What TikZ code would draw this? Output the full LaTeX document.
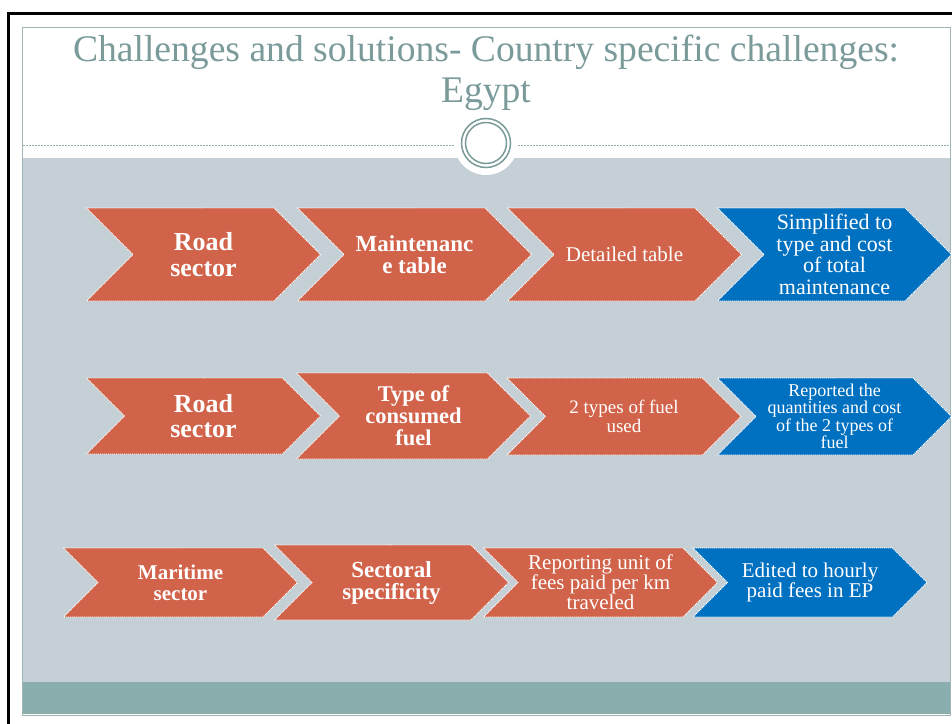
\documentclass[tikz,border=0pt]{standalone}
\usepackage{fontspec}
\setmainfont{Liberation Serif}
\usepackage{xcolor}
\usepackage{tikz}
\usetikzlibrary{shapes.symbols}

\definecolor{chevred}{RGB}{209,99,74}
\definecolor{chevblue}{RGB}{0,112,192}
\definecolor{panel}{RGB}{197,208,214}
\definecolor{footbar}{RGB}{138,173,173}
\definecolor{titlegray}{RGB}{123,155,155}
\definecolor{slideedge}{RGB}{160,182,182}

\begin{document}
\begin{tikzpicture}[x=1pt, y=-1pt,
  chev/.style={signal, signal from=west, signal to=east, signal pointer angle=90,
    draw=white, dash pattern=on 1.2pt off 0.8pt, line width=0.8pt,
    text=white, align=center, inner sep=0pt, outer sep=0pt, minimum width=234pt},
  redchev/.style={chev, fill=chevred},
  bluechev/.style={chev, fill=chevblue},
  title/.style={text=titlegray, align=center, inner sep=0pt, font=\fontsize{37.6}{41}\selectfont}
]
\useasboundingbox (0,0) rectangle (952,723);
\fill[white] (0,0) rectangle (952,723);
\draw[line width=3pt] (8.5,13) rectangle (990,760);

% slide and bands
\draw[draw=slideedge, fill=white, line width=1pt] (22.5,27.5) rectangle (950,715);
\fill[panel] (23,158) rectangle (949.5,682);
\fill[footbar] (23,682) rectangle (949.5,714);
\draw[titlegray!80, line width=0.8pt, dash pattern=on 2pt off 1pt] (23,145) -- (949.5,145);
\fill[white] (486,143) circle (32pt);
\draw[titlegray, line width=1.5pt] (486,143) circle (24.5pt) (486,143) circle (20.5pt);

\node[title] (title) at (486,72.7) {Challenges and solutions- Country specific challenges:\\Egypt};

% row 1
\node[redchev, minimum height=93pt, font=\bfseries\fontsize{26}{25.5}\selectfont] (road1) at (203.5,254.5) {Road\\sector};
\node[redchev, minimum height=93pt, font=\bfseries\fontsize{23}{22.5}\selectfont] (maint) at (414.5,254.5) {Maintenanc\\e table};
\node[redchev, minimum height=93pt, font=\fontsize{21}{21}\selectfont] (detail) at (624.5,254.5) {Detailed table};
\node[bluechev, minimum height=93pt, font=\fontsize{22}{21.5}\selectfont] (simpl) at (834.5,254.5) {Simplified to\\type and cost\\of total\\maintenance};

% row 2
\node[redchev, minimum height=76pt, font=\bfseries\fontsize{26}{25.5}\selectfont] (road2) at (203.5,416) {Road\\sector};
\node[redchev, minimum height=86pt, font=\bfseries\fontsize{22.5}{22}\selectfont] (fueltype) at (413.5,416) {Type of\\consumed\\fuel};
\node[redchev, minimum height=77pt, font=\fontsize{19}{19}\selectfont] (twofuel) at (624,416.5) {2 types of fuel\\used};
\node[bluechev, minimum height=77pt, font=\fontsize{18}{17.5}\selectfont] (reported) at (834.5,416.5) {Reported the\\quantities and cost\\of the 2 types of\\fuel};

% row 3
\node[redchev, minimum height=69pt, font=\bfseries\fontsize{21}{21}\selectfont] (marit) at (180.5,582.5) {Maritime\\sector};
\node[redchev, minimum height=75pt, font=\bfseries\fontsize{23}{22}\selectfont] (sectoral) at (391.5,582.5) {Sectoral\\specificity};
\node[redchev, minimum height=69pt, font=\fontsize{21}{20}\selectfont] (fees) at (600.5,582.5) {Reporting unit of\\fees paid per km\\traveled};
\node[bluechev, minimum height=69pt, font=\fontsize{21}{20}\selectfont] (hourly) at (810,582.5) {Edited to hourly\\paid fees in EP};
\end{tikzpicture}
\end{document}
